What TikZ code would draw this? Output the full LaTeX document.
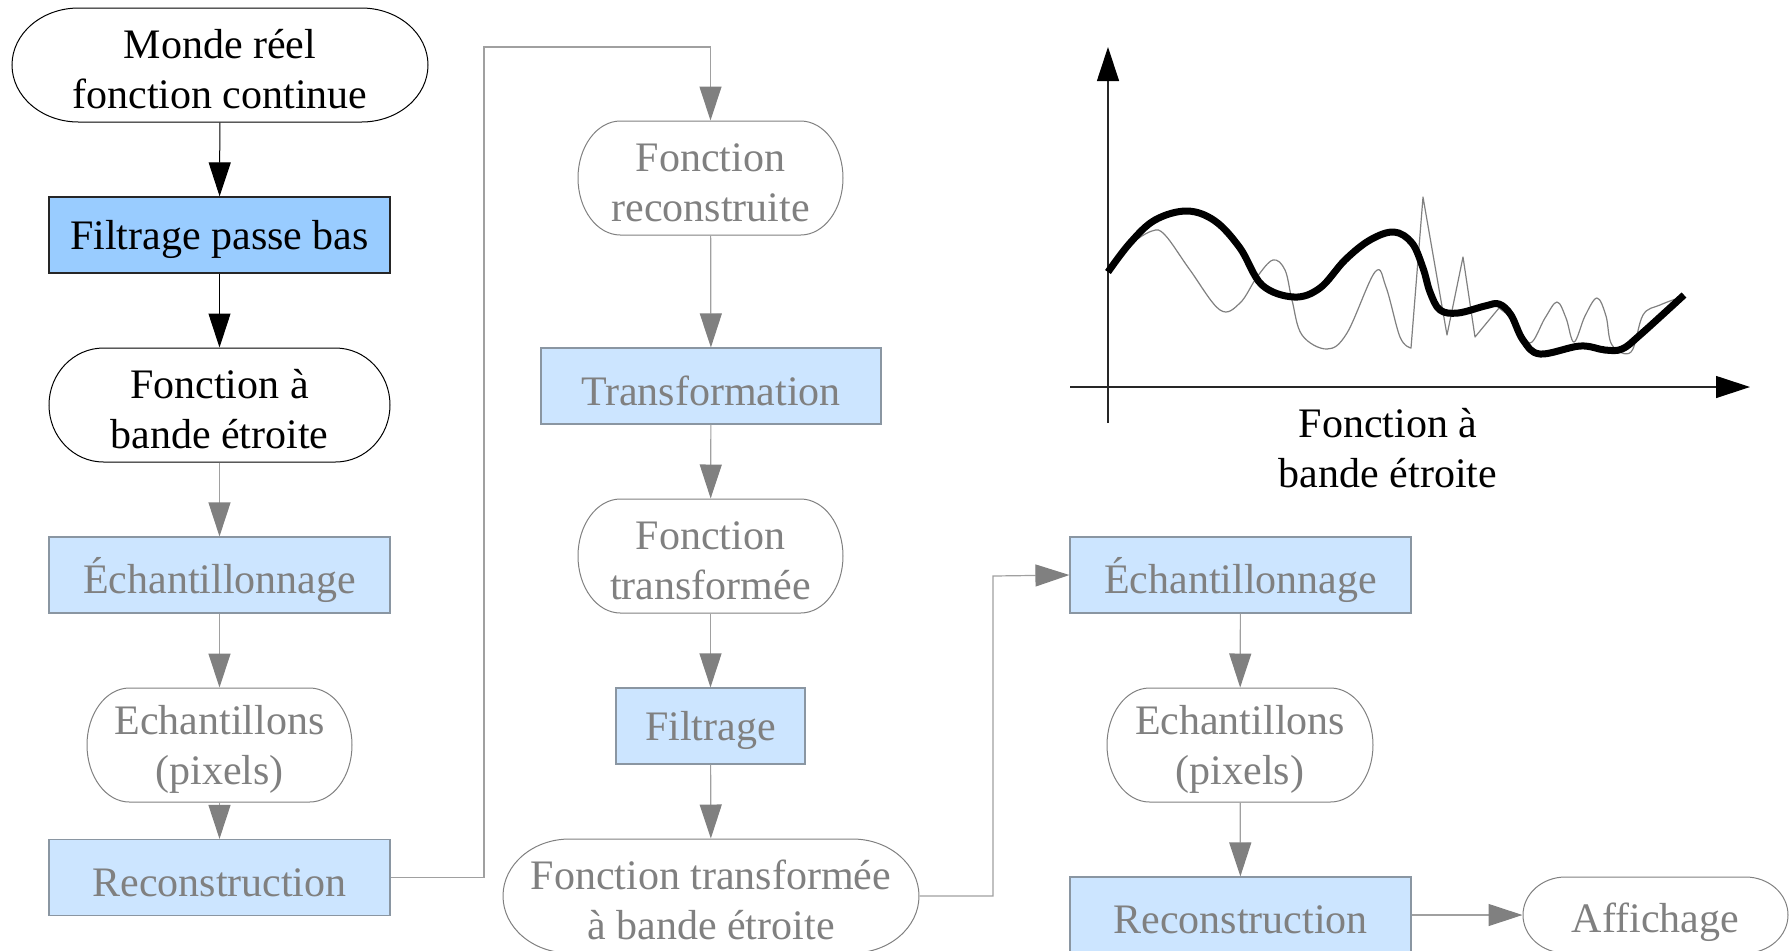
\documentclass[tikz,border=0pt]{standalone}
\usepackage{fontspec}
\setmainfont{Liberation Serif}
\usetikzlibrary{arrows.meta}
\definecolor{dkblue}{HTML}{99CCFF}
\definecolor{ltblue}{HTML}{CCE5FF}
\definecolor{txtgray}{HTML}{808080}
\definecolor{linegray}{HTML}{A0A0A0}
\definecolor{bordgray}{HTML}{8A96A2}
\definecolor{headgray}{HTML}{808080}

\def\stshift{-2.2pt}
\newcommand\stad[7][]{%
 \pgfmathsetmacro\stL{#3-#5/2}%
 \pgfmathsetmacro\stR{#3+#5/2}%
 \pgfmathsetmacro\stT{#4-#6/2}%
 \pgfmathsetmacro\stB{#4+#6/2}%
 \pgfmathsetmacro\strx{0.16*#5}%
 \pgfmathsetmacro\stA{\stL+\strx}%
 \pgfmathsetmacro\stBb{\stR-\strx}%
 \pgfmathsetmacro\stkx{0.5523*\strx}%
 \pgfmathsetmacro\stky{0.5523*#6/2}%
 \draw[#1] (\stA,\stT) -- (\stBb,\stT)
   .. controls (\stBb+\stkx,\stT) and (\stR,#4-\stky) .. (\stR,#4)
   .. controls (\stR,#4+\stky) and (\stBb+\stkx,\stB) .. (\stBb,\stB)
   -- (\stA,\stB)
   .. controls (\stA-\stkx,\stB) and (\stL,#4+\stky) .. (\stL,#4)
   .. controls (\stL,#4-\stky) and (\stA-\stkx,\stT) .. (\stA,\stT) -- cycle;
 \node[#1, draw=none, fill=none, minimum width=#5*0.5pt, minimum height=#6*0.5pt,
   label={[#1, draw=none, fill=none, yshift=\stshift]center:{#7}}] (#2) at (#3,#4) {};
}

\tikzset{
  lbl/.style={font=\fontsize{21}{25}\selectfont, align=center, inner sep=0pt},
  bterm/.style={lbl, draw=black, line width=0.5pt, text=black},
  gterm/.style={lbl, draw=txtgray, line width=0.5pt, text=txtgray},
  bbox/.style={lbl, rectangle, draw=black!85, line width=0.6pt, fill=dkblue, text=black},
  gbox/.style={lbl, rectangle, draw=bordgray, line width=0.6pt, fill=ltblue, text=txtgray},
  txtb/.style={label={[lbl, text=black, yshift=-2.4pt]center:{#1}}},
  txtg/.style={label={[lbl, text=txtgray, yshift=-2.4pt]center:{#1}}},
  barr/.style={draw=black, line width=0.5pt, -{Triangle[length=17pt,width=11pt]}},
  garr/.style={draw=linegray, line width=0.6pt, -{Triangle[length=17pt,width=11pt,color=headgray]}},
}

\begin{document}
\begin{tikzpicture}[x=0.5pt, y=-0.5pt]
\useasboundingbox (0,0) rectangle (1790,950);
\clip (0,0) rectangle (1790,950);

% left column
\stad[bterm]{monde}{220}{65}{416}{114}{Monde réel\\fonction continue}
\node[bbox, minimum width=170.5pt, minimum height=38pt, txtb=Filtrage passe bas] (fpb) at (219.5,235) {};
\stad[bterm]{fbe}{219.5}{405}{341}{114}{Fonction à\\bande étroite}
\node[gbox, minimum width=170.5pt, minimum height=38pt, txtg=Échantillonnage] (ech1) at (219.5,575) {};
\stad[gterm]{echs1}{219.5}{745}{265}{114}{Echantillons\\(pixels)}
\node[gbox, minimum width=170.5pt, minimum height=38pt, txtg=Reconstruction] (rec1) at (219.5,877.5) {};

% middle column
\stad[gterm]{frec}{710.5}{178}{265}{114}{Fonction\\reconstruite}
\node[gbox, minimum width=170pt, minimum height=38pt, txtg=Transformation] (trans) at (711,386) {};
\stad[gterm]{ftr}{710.5}{556}{265}{114}{Fonction\\transformée}
\node[gbox, minimum width=94.5pt, minimum height=38pt, txtg=Filtrage] (filt) at (710.5,726) {};
\stad[gterm]{ftbe}{711}{896}{416}{114}{Fonction transformée\\à bande étroite}

% right column
\node[gbox, minimum width=170.5pt, minimum height=38pt, txtg=Échantillonnage] (ech2) at (1240.5,575) {};
\stad[gterm]{echs2}{1240}{745}{266}{114}{Echantillons\\(pixels)}
\node[gbox, minimum width=170.5pt, minimum height=38pt, txtg=Reconstruction] (rec2) at (1240.5,915) {};
\def\stshift{-3.8pt}
\stad[gterm]{aff}{1655.5}{915}{265}{76}{Affichage}

% connectors
\draw[barr] (monde) -- (fpb);
\draw[barr] (fpb) -- (fbe);
\draw[garr] (fbe) -- (ech1);
\draw[garr] (ech1) -- (echs1);
\draw[garr] (echs1) -- (rec1);
\coordinate (c1) at (484,47);
\draw[garr] (rec1.east) -| (c1) -| (frec.north);
\draw[garr] (frec) -- (trans);
\draw[garr] (trans) -- (ftr);
\draw[garr] (ftr) -- (filt);
\draw[garr] (filt) -- (ftbe);
\coordinate (c2) at (993,576);
\draw[garr] (ftbe.east) -| (c2) -- (ech2.west);
\draw[garr] (ech2) -- (echs2);
\draw[garr] (echs2) -- (rec2);
\draw[garr] (rec2.east) -- (aff.west);

% chart
\coordinate (yb) at (1108,423);
\coordinate (yt) at (1108,47);
\coordinate (xl) at (1070,387);
\coordinate (xr) at (1750,387);
\draw[black!85, line width=0.6pt, -{Triangle[length=17pt,width=11pt,color=black]}] (yb) -- (yt);
\draw[black!85, line width=0.6pt, -{Triangle[length=17pt,width=11pt,color=black]}] (xl) -- (xr);

\draw[txtgray, line width=0.6pt, line join=round]
  plot[smooth, tension=0.6] coordinates {(1110,268) (1130,245) (1152,231) (1165,235) (1190,270) (1220,310) (1240,303) (1257,277) (1273,260) (1285,270) (1292,300) (1302,335) (1327,349) (1347,333) (1375,272) (1386,287) (1400,337) (1411,348)}
  -- (1423,197) -- (1447,335) -- (1463,257) -- (1475,337) -- (1499,308)
  -- plot[smooth, tension=0.6] coordinates {(1515,320) (1530,343) (1545,318) (1557,302) (1566,318) (1574,342) (1585,316) (1597,298) (1606,316) (1612,345) (1631,352) (1643,315) (1660,305) (1684,296)};

\draw[black, line width=3.5pt, line join=round]
  plot[smooth, tension=0.6] coordinates {(1108,272) (1130,243) (1155,220) (1187,211) (1215,221) (1240,248) (1262,285) (1294,297) (1320,288) (1345,260) (1370,240) (1394,232) (1412,243) (1423,268) (1430,292) (1440,310) (1458,313) (1485,306) (1499,304) (1511,315) (1523,340) (1540,354) (1580,346) (1605,350) (1622,349) (1640,335) (1684,295)};

\node[lbl, text=black] (lab) at (1388,448) {Fonction à\\bande étroite};
\end{tikzpicture}
\end{document}
